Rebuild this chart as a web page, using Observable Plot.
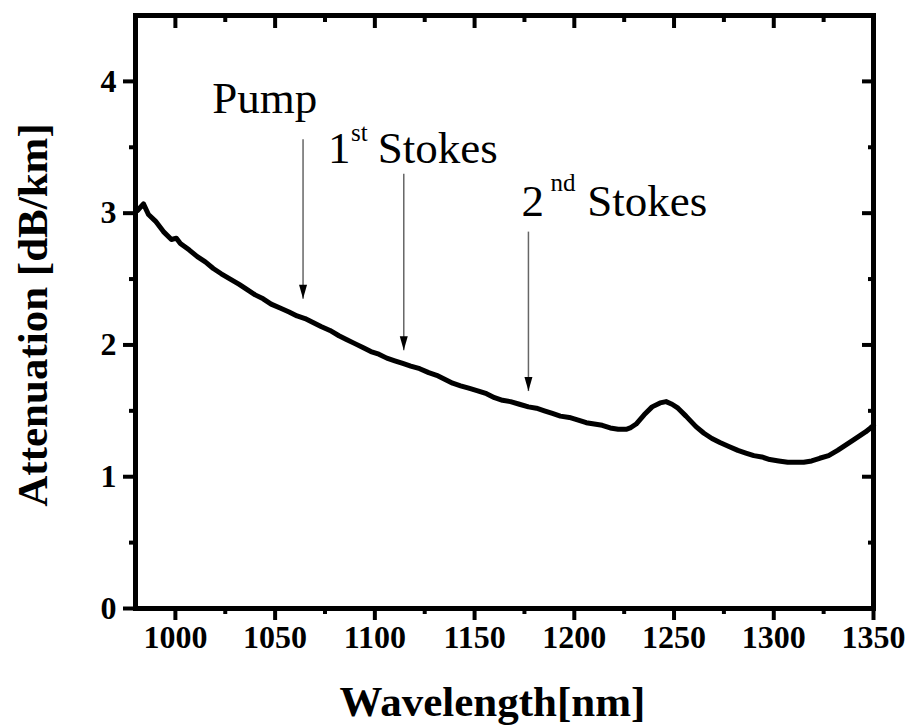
<!DOCTYPE html>
<html>
<head>
<meta charset="utf-8">
<script src="https://cdn.jsdelivr.net/npm/d3@7"></script>
<script src="https://cdn.jsdelivr.net/npm/@observablehq/plot@0.6"></script>
<style>
  html, body { margin: 0; padding: 0; background: #fff; }
  #chart svg { display: block; }
</style>
</head>
<body>
<div id="chart"></div>
<script>
// Spectral attenuation
const wavelength = [981, 984, 986.5, 990, 994, 998, 1000.5, 1002.5, 1007, 1011, 1015, 1019, 1023, 1027.5, 1032, 1036, 1040, 1044, 1048, 1052.5, 1057, 1061, 1065, 1069, 1073, 1077.5, 1082, 1086, 1090, 1094, 1098, 1102, 1106, 1110, 1114, 1118, 1122.5, 1127, 1131, 1135, 1139, 1143, 1147.5, 1152, 1156, 1160, 1164, 1168, 1172.5, 1177, 1181, 1185, 1189, 1193, 1197.5, 1202, 1206, 1210, 1214, 1218, 1222, 1226, 1228, 1231, 1235, 1239, 1243, 1246, 1249, 1252, 1256, 1261, 1265, 1269, 1273, 1277.5, 1282, 1286, 1290, 1294, 1298, 1302.5, 1307, 1311, 1315, 1319, 1323, 1327.5, 1332, 1336, 1340, 1343, 1346, 1348.5, 1350];
const attenuation = [3.02, 3.07, 2.99, 2.94, 2.86, 2.80, 2.81, 2.77, 2.72, 2.67, 2.63, 2.58, 2.54, 2.50, 2.46, 2.42, 2.38, 2.35, 2.31, 2.28, 2.25, 2.22, 2.20, 2.17, 2.14, 2.11, 2.07, 2.04, 2.01, 1.98, 1.95, 1.93, 1.90, 1.88, 1.86, 1.84, 1.82, 1.79, 1.77, 1.74, 1.71, 1.69, 1.67, 1.65, 1.63, 1.60, 1.58, 1.57, 1.55, 1.53, 1.52, 1.50, 1.48, 1.46, 1.45, 1.43, 1.41, 1.40, 1.39, 1.37, 1.36, 1.36, 1.37, 1.40, 1.47, 1.53, 1.56, 1.57, 1.55, 1.52, 1.46, 1.38, 1.33, 1.29, 1.26, 1.23, 1.20, 1.18, 1.16, 1.15, 1.13, 1.12, 1.11, 1.11, 1.11, 1.12, 1.14, 1.16, 1.20, 1.24, 1.28, 1.31, 1.34, 1.37, 1.39];

// Arrows marking pump and Stokes wavelengths
const arrowNames = ["Pump", "1st Stokes", "2nd Stokes"];
const arrowWavelength = [1064, 1114.5, 1177];
const arrowTop = [3.56, 3.30, 2.86];
const arrowTip = [2.35, 1.96, 1.65];

// Label pieces (main text, superscript, rest) with their anchor points in data units
const labelMain = ["Pump", "1", "2"];
const labelMainX = [1018.5, 1076.5, 1173.5];
const labelMainY = [3.76, 3.38, 2.98];
const labelSup = ["st", "nd"];
const labelSupX = [1088, 1188];
const labelSupY = [3.55, 3.17];
const labelRest = ["Stokes", "Stokes"];
const labelRestX = [1101.5, 1206.5];
const labelRestY = [3.38, 2.98];

// Axis ticks
const xMajor = [1000, 1050, 1100, 1150, 1200, 1250, 1300, 1350];
const xMinor = [1025, 1075, 1125, 1175, 1225, 1275, 1325];
const yMajor = [0, 1, 2, 3, 4];
const yMinor = [0.5, 1.5, 2.5, 3.5];

const xLabel = "Wavelength[nm]";
const yLabel = "Attenuation [dB/km]";

const curve = wavelength.map((w, i) => ({w, a: attenuation[i]}));
const arrows = arrowNames.map((n, i) => ({n, x: arrowWavelength[i], top: arrowTop[i], tip: arrowTip[i]}));
const mains = labelMain.map((t, i) => ({t, x: labelMainX[i], y: labelMainY[i]}));
const sups = labelSup.map((t, i) => ({t, x: labelSupX[i], y: labelSupY[i]}));
const rests = labelRest.map((t, i) => ({t, x: labelRestX[i], y: labelRestY[i]}));

const head = {
  draw(ctx) {
    ctx.moveTo(0, 0);
    ctx.lineTo(-4, -14);
    ctx.lineTo(4, -14);
    ctx.closePath();
  }
};

const serif = "'Liberation Serif', 'Times New Roman', serif";
const noText = {text: null, tickFormat: () => "", label: null};

const chart = Plot.plot({
  width: 912,
  height: 728,
  marginLeft: 135,
  marginRight: 39,
  marginTop: 15,
  marginBottom: 120,
  style: {fontFamily: serif, background: "#fff", color: "#000"},
  x: {domain: [980, 1350], axis: null},
  y: {domain: [0, 4.5], axis: null},
  marks: [
    // bottom axis: outward ticks + labels
    Plot.axisX({anchor: "bottom", ticks: xMajor, tickSize: 12, tickPadding: 5, strokeWidth: 4, fontSize: 32, fontWeight: "bold", tickFormat: d => String(d), label: null}),
    Plot.axisX({anchor: "bottom", ticks: xMinor, tickSize: 6, strokeWidth: 4, ...noText}),
    // top axis: inward ticks
    Plot.axisX({anchor: "top", ticks: xMajor, tickSize: -12, strokeWidth: 4, ...noText}),
    Plot.axisX({anchor: "top", ticks: xMinor, tickSize: -6, strokeWidth: 4, ...noText}),
    // left axis
    Plot.axisY({anchor: "left", ticks: yMajor, tickSize: 12, tickPadding: 7, strokeWidth: 4, fontSize: 32, fontWeight: "bold", tickFormat: d => String(d), label: null}),
    Plot.axisY({anchor: "left", ticks: yMinor, tickSize: 6, strokeWidth: 4, ...noText}),
    // right axis inward
    Plot.axisY({anchor: "right", ticks: yMajor, tickSize: -12, strokeWidth: 4, ...noText}),
    Plot.axisY({anchor: "right", ticks: yMinor, tickSize: -6, strokeWidth: 4, ...noText}),
    Plot.frame({stroke: "#000", strokeWidth: 5}),
    // data curve
    Plot.line(curve, {x: "w", y: "a", stroke: "#000", strokeWidth: 5, strokeLinejoin: "round", strokeLinecap: "round"}),
    // arrows
    Plot.link(arrows, {x1: "x", x2: "x", y1: "top", y2: "tip", stroke: "#666", strokeWidth: 1.5}),
    Plot.dot(arrows, {x: "x", y: "tip", symbol: head, r: 5, fill: "#000", stroke: "none"}),
    // annotation labels
    Plot.text(mains, {x: "x", y: "y", text: "t", textAnchor: "start", lineAnchor: "bottom", fontSize: 45, fill: "#000"}),
    Plot.text(sups, {x: "x", y: "y", text: "t", textAnchor: "start", lineAnchor: "bottom", fontSize: 25, fill: "#000"}),
    Plot.text(rests, {x: "x", y: "y", text: "t", textAnchor: "start", lineAnchor: "bottom", fontSize: 45, fill: "#000"}),
    // axis titles
    Plot.text([xLabel], {text: d => d, frameAnchor: "bottom", lineAnchor: "bottom", textAnchor: "middle", dy: 107, dx: -12, fontSize: 43, fontWeight: "bold", fill: "#000"}),
    Plot.text([yLabel], {text: d => d, frameAnchor: "left", textAnchor: "middle", lineAnchor: "middle", rotate: -90, dx: -102, dy: 3, fontSize: 43, fontWeight: "bold", fill: "#000"})
  ]
});
document.getElementById("chart").appendChild(chart);
</script>
</body>
</html>
